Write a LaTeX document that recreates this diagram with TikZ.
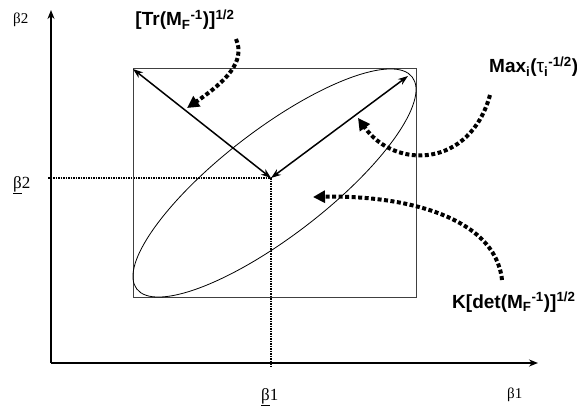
\documentclass[tikz,border=0pt]{standalone}
\usepackage{fontspec}
\setmainfont{Liberation Serif}
\setsansfont{Liberation Sans}
\usetikzlibrary{arrows.meta}
\tikzset{
  axis/.style={line width=1.5pt,-{Stealth[length=9pt,width=7pt]}},
  guide/.style={line width=1.5pt,densely dotted},
  semi/.style={line width=1.5pt,{Stealth[length=10pt,width=7pt]}-{Stealth[length=10pt,width=7pt]}},
  pointer/.style={line width=4pt,dash pattern=on 4pt off 2.5pt,-{Triangle[length=12pt,width=12pt]}},
  crit/.style={font=\sffamily\bfseries\fontsize{19}{21}\selectfont,inner sep=0pt},
  sym/.style={font=\fontsize{17}{19}\selectfont,inner sep=0pt},
}
\begin{document}
\begin{tikzpicture}[x=1pt,y=-1pt]
\useasboundingbox (0,0) rectangle (577,406);
% axes
\coordinate (orig) at (51,363);
\coordinate (ytop) at (51,10);
\coordinate (xend) at (538,363);
\draw[axis] (orig)--(ytop);
\draw[axis] (orig)--(xend);
\node[sym,anchor=base west,font=\fontsize{15}{17}\selectfont] (b2) at (13,24) {β2};
\node[sym,anchor=base west,font=\fontsize{15}{17}\selectfont] (b1) at (507,398) {β1};

% estimate and guide lines
\coordinate (O) at (271,178);
\coordinate (yO) at (48,178);
\coordinate (xO) at (271,368);
\draw[guide] (yO)--(O);
\draw[guide] (O)--(xO);
\node[sym,anchor=base west] (b2l) at (13,188) {\underline{β}2};
\node[sym,anchor=base west] (b1l) at (261,400) {\underline{β}1};

% box and ellipse
\coordinate (E) at (274.5,183);
\coordinate (C) at (133,69);
\coordinate (D) at (416,297);
\coordinate (T) at (408,76);
\draw[line width=1pt,black!75] (C) rectangle (D);
\draw[line width=0.8pt,rotate around={37.56:(E)}] (E) ellipse [x radius=173.8pt,y radius=53.2pt];
\draw[semi] (O)--(C);
\draw[semi] (O)--(T);

% criteria
\node[crit,anchor=base] (tr) at (185,26) {[Tr(M\textsubscript{F}\textsuperscript{-1})]\textsuperscript{1/2}};
\node[crit,anchor=base west] (mx) at (489,73) {Max\textsubscript{i}({\mdseries τ}\textsubscript{i}\textsuperscript{-1/2})};
\node[crit,anchor=base west] (kd) at (452,308) {K[det(M\textsubscript{F}\textsuperscript{-1})]\textsuperscript{1/2}};
\coordinate (trs) at (236,39);
\coordinate (tre) at (187,108);
\coordinate (mxs) at (490,95);
\coordinate (mxe) at (358,118);
\coordinate (kds) at (502,280);
\coordinate (kde) at (313,197);
\draw[pointer] (trs) .. controls (246,62) and (225,82) .. (tre);
\draw[pointer] (mxs) .. controls (470,168) and (395,170) .. (mxe);
\draw[pointer] (kds) .. controls (495,215) and (400,195) .. (kde);
\end{tikzpicture}
\end{document}
